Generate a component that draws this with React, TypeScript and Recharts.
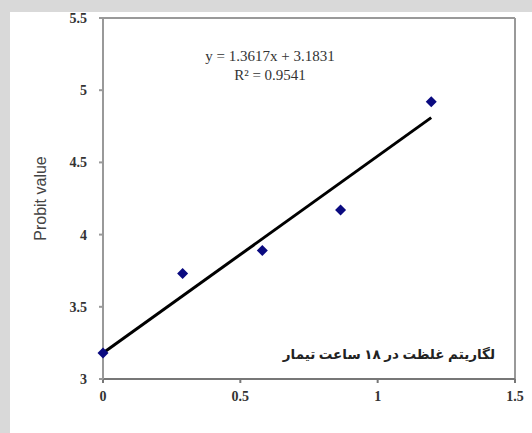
import {
  ScatterChart,
  Scatter,
  XAxis,
  YAxis,
  ReferenceLine,
} from 'recharts';

// log concentration vs probit value
const logDose = [0, 0.29, 0.58, 0.865, 1.195];
const probit = [3.18, 3.73, 3.89, 4.17, 4.92];

// trend line endpoints
const trendX = [0, 1.195];
const trendY = [3.18, 4.81];

const xTicks = [0, 0.5, 1, 1.5];
const yTicks = [3, 3.5, 4, 4.5, 5, 5.5];

const equationText = 'y = 1.3617x + 3.1831';
const r2Text = 'R² = 0.9541';
const noteText = 'لگاریتم غلظت در ۱۸ ساعت تیمار';

const points = logDose.map((x, i) => ({ x, y: probit[i] }));
const trend = trendX.map((x, i) => ({ x, y: trendY[i] }));

const tickStyle = {
  fontFamily: '"Liberation Serif", serif',
  fontSize: 14,
  fontWeight: 700,
  fill: '#333',
};

const Diamond = (props: any) => {
  const { cx, cy } = props;
  if (cx == null || cy == null) return null;
  const r = 5.5;
  return (
    <path
      d={`M${cx},${cy - r}L${cx + r},${cy}L${cx},${cy + r}L${cx - r},${cy}Z`}
      fill="#0a0a80"
    />
  );
};

export default function App() {
  return (
    <div
      style={{
        position: 'absolute',
        left: 0,
        top: 0,
        width: 532,
        height: 433,
        background: '#fff',
        overflow: 'hidden',
      }}
    >
      <ScatterChart
        width={532}
        height={433}
        margin={{ top: 18, right: 17, bottom: 0, left: 0 }}
      >
        <XAxis
          type="number"
          dataKey="x"
          domain={[0, 1.5]}
          ticks={xTicks}
          tick={tickStyle}
          tickSize={4}
          tickMargin={8}
          height={54}
          stroke="#777"
          strokeWidth={2}
        />
        <YAxis
          type="number"
          dataKey="y"
          domain={[3, 5.5]}
          ticks={yTicks}
          tick={tickStyle}
          tickSize={4}
          tickMargin={12}
          width={103}
          stroke="#999"
          strokeWidth={2}
          label={{
            value: 'Probit value',
            angle: -90,
            position: 'insideLeft',
            offset: 40,
            style: {
              fontFamily: '"Liberation Sans", sans-serif',
              fontSize: 16,
              fill: '#444',
              textAnchor: 'middle',
            },
          }}
        />
        <ReferenceLine y={5.5} stroke="#999" strokeWidth={2} />
        <ReferenceLine x={1.5} stroke="#999" strokeWidth={2} />
        <Scatter
          data={trend}
          line={{ stroke: '#000', strokeWidth: 3 }}
          shape={() => null}
          isAnimationActive={false}
        />
        <Scatter data={points} shape={Diamond} isAnimationActive={false} />
      </ScatterChart>
      <div
        style={{
          position: 'absolute',
          left: 150,
          top: 47,
          width: 240,
          textAlign: 'center',
          fontFamily: '"Liberation Serif", serif',
          fontSize: 15,
          lineHeight: '19px',
          color: '#333',
        }}
      >
        <div>{equationText}</div>
        <div>{r2Text}</div>
      </div>
      <div
        dir="rtl"
        style={{
          position: 'absolute',
          right: 37,
          top: 345,
          fontFamily: '"Noto Sans", "DejaVu Sans", sans-serif',
          fontSize: 13.5,
          fontWeight: 700,
          color: '#222',
          whiteSpace: 'nowrap',
        }}
      >
        {noteText}
      </div>
      {/* grey frame round the picture */}
      <div
        style={{
          position: 'absolute',
          left: 0,
          top: 0,
          width: 532,
          height: 12,
          background: '#d9d9d9',
        }}
      />
      <div
        style={{
          position: 'absolute',
          left: 0,
          top: 0,
          width: 10,
          height: 433,
          background: '#d9d9d9',
        }}
      />
    </div>
  );
}
